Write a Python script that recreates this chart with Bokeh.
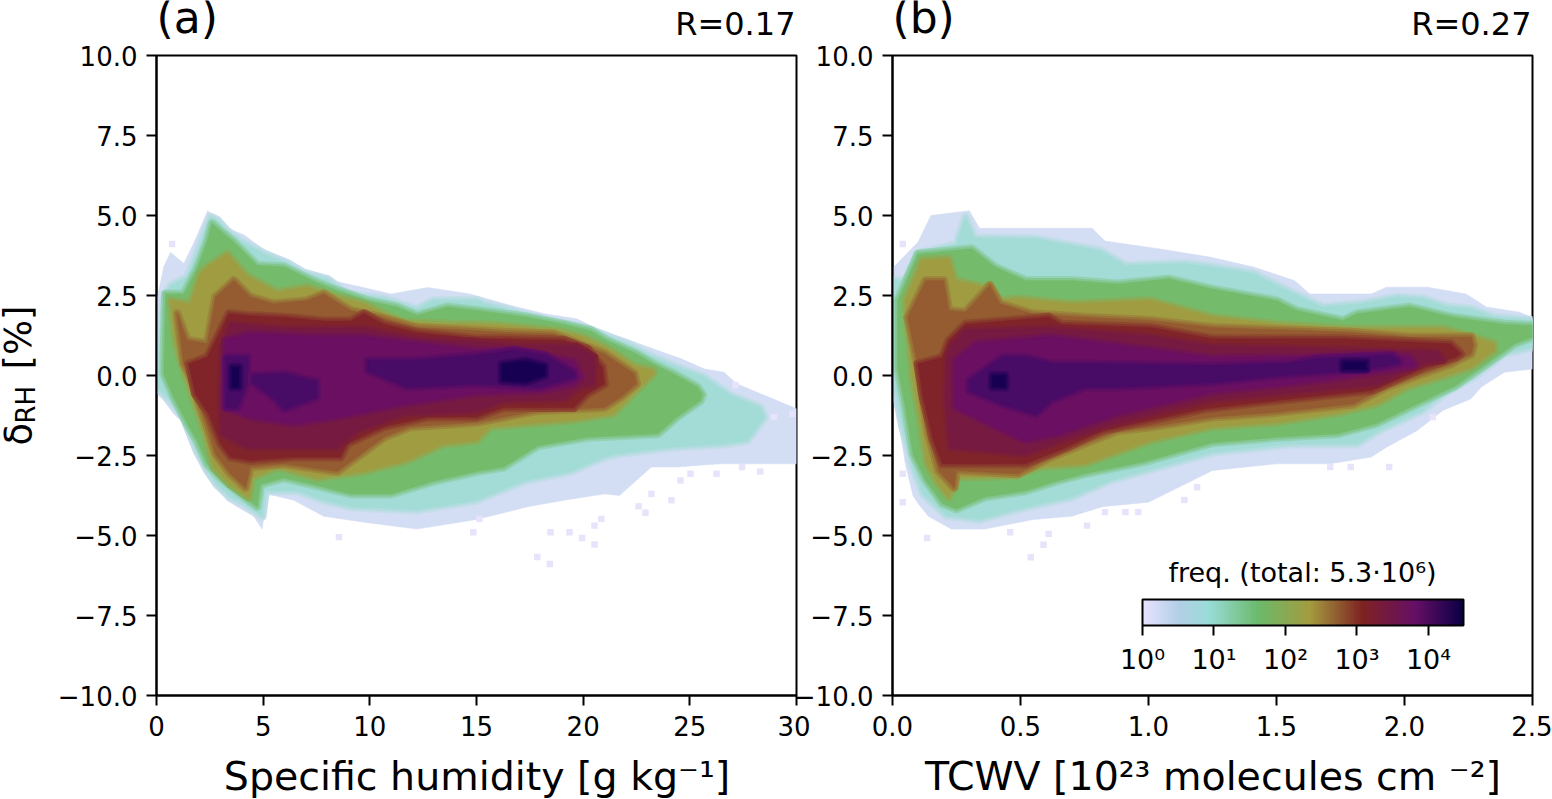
import numpy as np
from bokeh.plotting import figure
from bokeh.layouts import row
from bokeh.embed import file_html
from bokeh.resources import INLINE
from bokeh.models import ColorBar, FixedTicker, Label, LogColorMapper

# ---------- ticks ----------
Y_TICKS = [-10, -7.5, -5, -2.5, 0, 2.5, 5, 7.5, 10]
Y_LABELS = ["\u221210.0", "\u22127.5", "\u22125.0", "\u22122.5", "0.0", "2.5", "5.0", "7.5", "10.0"]
XA_TICKS = [0, 5, 10, 15, 20, 25, 30]
XB_TICKS = [0, 0.5, 1.0, 1.5, 2.0, 2.5]
XB_LABELS = ["0.0", "0.5", "1.0", "1.5", "2.0", "2.5"]
CB_TICKS = [1, 10, 100, 1000, 10000]
CB_LABELS = ["10\u2070", "10\u00b9", "10\u00b2", "10\u00b3", "10\u2074"]

# ---------- panel (a): contour outlines of the histogram ----------
A1_UX = [.03,.34,.66,1.28,1.75,2.4,2.7,3.3,4.1,5,6,7.1,8,9.7,11,12.7,14.7,16.6,18.2,19.7,21,22,23.5,24.6,25.7,26.6,27.2,28.5,30]
A1_UY = [2.4,3.4,3.85,3.5,4.15,5.15,5.0,4.6,4.4,3.95,3.6,3.2,3,2.75,2.55,2.75,2.55,2.19,1.93,1.77,1.35,1.15,.78,.52,.2,.1,-.26,-.62,-1.04]
A1_LX = [.03,.34,.81,1.28,1.6,2.06,2.4,2.84,3.3,3.78,4.56,4.95,5.2,6.44,7.84,9.9,12.2,15,17.4,19.1,21,21.7,23.2,24.4,26.4,28.5,30]
A1_LY = [-.57,-.78,-1.2,-1.5,-2.13,-2.76,-2.97,-3.5,-3.9,-4.1,-4.4,-4.8,-3.7,-3.9,-4.4,-4.6,-4.8,-4.5,-4.1,-3.9,-3.7,-3.75,-2.86,-2.86,-2.76,-2.76,-2.76]
A2_UX = [.34,.66,1.44,1.83,2.53,2.84,3.31,3.94,5.03,6.13,6.9,8,8.94,10.66,12.2,13,15.03,15.35,16.75,18.3,20,21,22.2,23.3,24.4,25.66,26.9,28.3]
A2_UY = [2.34,2.8,3.07,3.7,4.95,4.85,4.5,4.2,3.8,3.5,3.2,3,2.55,2.4,2.08,2.34,2.34,2.24,2,1.72,1.5,1.25,.94,.57,.26,-.05,-.62,-1.0]
A2_LX = [.03,.66,1.28,1.9,2.4,2.84,3.47,4.1,4.95,5.1,6.6,7.84,9.1,12.2,15,17.2,19.4,21,21.6,24.1,26.6,27.7,28.5]
A2_LY = [-.36,-.78,-1.3,-2.34,-2.97,-3.4,-3.8,-4.0,-4.4,-3.6,-3.6,-3.9,-4.1,-4.2,-3.9,-3.3,-3,-2.55,-2.45,-2.24,-2.14,-2.03,-1.3]
A3_UX = [.42,1.28,1.9,2.38,2.6,3.16,3.63,4.72,5.97,7.53,8.47,9.88,11.28,12.22,13.63,15.03,15.66,17.4,19.1,20.35,21.1,22.5,23.3,24.25,25.35,25.6]
A3_UY = [2.55,2.55,3.34,4.2,4.75,4.43,4.17,3.44,3.4,2.9,2.66,2.34,2.14,1.88,2.14,2.03,1.98,1.82,1.6,1.4,1.1,.68,.36,.05,-.36,-.6]
A3_LX = [.34,.81,1.44,1.9,2.38,3,3.94,4.72,4.88,5.97,7.53,9.1,11,13,15,16.28,17.85,20.2,23.5,24.4,25.5]
A3_LY = [.05,-.68,-1.5,-2.03,-2.76,-3.2,-3.7,-4.1,-3.4,-3.2,-3.44,-3.7,-3.7,-3.3,-3,-2.86,-2.2,-1.93,-1.82,-1.3,-.78]
A4_UX = [.66,1.6,2.06,2.38,3.31,4.25,5.66,7.06,8.47,9.7,10.66,11.6,13.78,15,16.28,18.8,20,21.3,22.4,23.3]
A4_UY = [2.34,2.24,3.18,3.39,3.8,3.1,2.6,2.76,2.45,2.24,1.93,1.67,1.6,1.6,1.56,1.4,1.2,.78,.3,.15]
A4_LX = [.9,1.28,1.75,2.22,2.69,3.47,4.33,4.48,5.66,7.53,9.72,11.75,13.47,15,15.66,19.4,21.4,22.5,23.3]
A4_LY = [1,.16,-.78,-1.7,-2.86,-3.4,-3.8,-3.2,-2.86,-3.2,-3,-2.66,-2.14,-2.03,-1.6,-1.4,-1.2,-.47,.05]
A5_UX = [.97,1.44,2.38,2.77,3.63,4.4,5.5,7.06,7.84,9.1,10.5,12.2,15,16.28,18.6,19.4,21,22.4]
A5_UY = [1.93,1.1,1,2.45,2.97,2.45,2.24,2.34,2.55,2.03,1.82,1.5,1.4,1.35,1.3,1.1,.68,.05]
A5_LX = [1.28,1.6,2.06,2.38,2.77,3.47,4.17,4.4,5.97,8.47,9.4,10.66,11.9,15,17.85,21,21.75,22.5]
A5_LY = [.36,-.05,-1,-1.6,-2.45,-3.07,-3.5,-2.86,-2.76,-3,-2.55,-1.93,-1.6,-1.46,-1.1,-1,-.68,-.26]
A6_UX = [1.52,2.38,3,3.39,4.4,5.97,7.84,9.1,9.72,10.66,12.2,15,16.44,19.1,20.2,20.9]
A6_UY = [.36,.57,1.4,1.93,1.87,1.82,1.7,1.7,1.93,1.6,1.35,1.15,1.15,1.1,.83,.26]
A6_LX = [1.83,2.45,3,3.47,4.4,6.44,8.62,8.94,10.66,12.7,15,16.28,19.56,20.2,21]
A6_LY = [-.57,-1.2,-2.13,-2.55,-2.66,-2.55,-2.55,-2.13,-1.6,-1.3,-1.3,-1,-1,-.57,-.26]
A7_UX = [3.08,3.47,5.97,9.72,12.2,15,16.75,19.7,20.5]
A7_UY = [.89,1.6,1.46,1.46,1.15,1.04,.94,.89,.57]
A7_LX = [3,3.08,4.25,8.47,9.4,11.6,15,16.28,19.1,19.9,20.5]
A7_LY = [-.78,-1.82,-2.24,-2.24,-1.72,-1.2,-1.09,-.78,-.73,-.36,-.26]
A8_UX = [3.23,4.4,7.53,9.72,12.2,15,16.28,18.16,19.56,19.9]
A8_UY = [1.09,1.3,1.2,1.2,1,.78,.78,.62,.42,-.05]
A8_LX = [3.23,4.4,6.44,8.47,11.6,15,18.16,19.56]
A8_LY = [-1,-1.3,-1.5,-1.3,-.89,-.55,-.47,-.26]
A9A_UX = [3.28,4.25]
A9A_UY = [.57,.57]
A9A_LX = [3.28,3.8,4.25]
A9A_LY = [-.99,-.99,-.2]
A9B_UX = [4.5,6,7.5]
A9B_UY = [0,.05,-.2]
A9B_LX = [4.5,5.6,6,7.5]
A9B_LY = [-.2,-.75,-1.05,-.68]
A9C_UX = [9.9,12.2,15,16.75,18.2,19.56]
A9C_UY = [.47,.47,.62,.78,.62,.1]
A9C_LX = [9.9,11.75,15,17.85,19.56]
A9C_LY = [.16,-.36,-.25,-.36,-.05]
A10A_UX = [3.55,3.86]
A10A_UY = [.26,.26]
A10A_LX = [3.55,3.86]
A10A_LY = [-.36,-.36]
A10B_UX = [16.2,17.3,18.2]
A10B_UY = [.35,.45,.3]
A10B_LX = [16.2,17.3,18.2]
A10B_LY = [-.15,-.2,0]
A_OUT_X = [17.85,18.44,20.53,19.95,18.47,19.36,14.85,20.53,20.85,15.14,22.92,22.6,24.14,23.2,24.56,28.3,26.25,25.03,27.45,27.14,29.8,28.94,.73,8.55]
A_OUT_Y = [-5.67,-5.89,-5.28,-5.08,-4.9,-4.9,-4.9,-4.69,-4.48,-4.48,-4.29,-4.09,-3.9,-3.7,-3.28,-3.0,-3.07,-3.07,-2.86,-.3,-1.2,-1.3,4.11,-5.05]

# ---------- panel (b) ----------
B1_UX = [.005,.1,.15,.3,.34,.49,.78,.83,1.04,1.24,1.41,1.57,1.63,1.76,1.87,1.93,2.09,2.24,2.32,2.45,2.5]
B1_UY = [3.39,4.17,5,5.15,4.6,4.6,4.6,4.2,3.96,3.7,3.39,2.97,2.55,2.55,2.55,2.76,2.76,2.55,2.14,1.98,1.8]
B1_LX = [.005,.03,.05,.08,.1,.14,.23,.36,.55,.7,.82,1,1.25,1.5,1.71,1.87,1.93,2.05,2.15,2.26,2.3,2.39,2.5]
B1_LY = [-.78,-1.72,-2.76,-3.75,-4,-4.4,-4.8,-4.8,-4.5,-4.4,-4.1,-3.96,-2.97,-2.76,-2.76,-2.55,-2.24,-1.72,-1.09,-.73,-.36,.1,.2]
B2_UX = [.01,.08,.1,.25,.285,.32,.56,.81,.91,1.14,1.25,1.41,1.57,1.68,1.83,1.97,2.07,2.17,2.26,2.35,2.5]
B2_UY = [2.97,2.97,3.8,4.1,4.95,4.3,4.27,3.9,3.44,3.5,3.39,3.18,2.55,2.14,2.24,2.45,2.4,2.14,2.08,1.82,1.72]
B2_LX = [.01,.04,.08,.12,.21,.34,.49,.7,.85,1.04,1.25,1.55,1.815,1.9,2.07,2.17,2.27,2.39,2.5]
B2_LY = [-.36,-1.6,-2.86,-3.7,-4.37,-4.5,-4.17,-3.8,-3.28,-2.86,-2.4,-2.14,-2.14,-1.72,-1.09,-.47,-.05,.68,.89]
B3_UX = [.02,.1,.31,.4,.52,.7,.88,1.08,1.25,1.5,1.58,1.76,1.815,2.02,2.19,2.39,2.5]
B3_UY = [2.34,3.8,3.96,3.39,2.97,2.97,2.86,3.02,2.7,2.34,2.03,1.72,1.93,2.14,1.82,1.6,1.56]
B3_LX = [.02,.05,.08,.13,.195,.25,.36,.52,.65,.75,.98,1.25,1.5,1.74,1.89,2.05,2.2,2.32,2.43,2.5]
B3_LY = [.26,-.99,-2.45,-3.28,-4,-4.17,-3.8,-3.6,-3.28,-3.07,-2.7,-2.1,-1.93,-1.82,-1.5,-.89,-.31,.36,.99,1.2]
B4_UX = [.05,.115,.22,.245,.36,.42,.49,.7,1.01,1.25,1.5,1.76,2.15,2.27,2.35]
B4_UY = [2.34,3.6,3.65,2.97,2.76,2.34,2.4,2.24,2.34,1.82,1.6,1.46,1.46,1.2,.99]
B4_LX = [.08,.1,.135,.18,.22,.25,.48,.57,.75,1.01,1.25,1.5,1.75,1.89,2.01,2.14,2.26,2.35]
B4_LY = [-.16,-.99,-2.76,-3.4,-3.8,-3.18,-3.13,-2.86,-2.76,-2.03,-1.6,-1.46,-1.15,-.89,-.36,-.05,.26,.78]
B5_UX = [.06,.13,.2,.22,.285,.38,.42,.545,.75,1.01,1.25,1.63,1.79,2.02,2.26,2.27]
B5_UY = [1.82,2.97,2.97,2.03,1.98,2.81,2.24,1.93,1.82,1.72,1.5,1.4,1.35,1.2,1.2,.95]
B5_LX = [.1,.14,.18,.24,.25,.49,.62,.78,.88,1.01,1.25,1.5,1.8,1.93,2.05,2.18,2.26]
B5_LY = [.26,-1.82,-2.97,-3.5,-2.97,-3.07,-2.55,-2.03,-1.72,-1.6,-1.3,-1.15,-.89,-.36,0,.36,.68]
B6_UX = [.1,.195,.22,.285,.61,.66,1.01,1.25,1.76,2.18,2.22]
B6_UY = [.36,.57,1.09,1.6,1.82,1.6,1.5,1.15,1.15,.99,.68]
B6_LX = [.12,.16,.195,.52,.68,.82,1.01,1.22,1.5,1.87,2.08,2.2]
B6_LY = [-.68,-2.03,-2.76,-2.76,-2.24,-1.72,-1.4,-1.04,-.78,-.47,.26,.57]
B7_UX = [.215,.23,.285,.61,1.01,1.25,1.63,2.13,2.15]
B7_UY = [.57,.89,1.4,1.46,1.2,.9,.83,.73,.5]
B7_LX = [.21,.225,.52,.66,.82,1.01,1.25,1.5,1.89,2.08]
B7_LY = [-.78,-2.24,-2.45,-2.03,-1.6,-1.2,-.75,-.57,-.26,.42]
B8_UX = [.245,.325,.62,.88,1.25,1.63,1.93,2.02,2.04]
B8_UY = [.47,.99,1.2,.94,.55,.57,.68,.57,.31]
B8_LX = [.245,.4,.52,.65,.88,1.25,1.5,1.76,1.97]
B8_LY = [-.99,-1.6,-2.03,-1.82,-1.2,-.5,-.31,-.05,.21]
B9_UX = [.3,.43,.52,.62,.75,1.25,1.54,1.66,1.95,1.98]
B9_UY = [-.16,.57,.57,.36,.36,.3,.36,.52,.62,.42]
B9_LX = [.3,.43,.56,.62,.75,.88,1.25,1.5,1.79,1.93]
B9_LY = [-.47,-.89,-1.2,-.78,-.36,-.36,-.21,0,.16,.31]
B10A_UX = [.39,.44]
B10A_UY = [0,0]
B10A_LX = [.39,.44]
B10A_LY = [-.36,-.36]
B10B_UX = [1.76,1.85]
B10B_UY = [.42,.42]
B10B_LX = [1.76,1.85]
B10B_LY = [.2,.2]
B_OUT_X = [.54,.59,.61,.135,.46,.76,.04,.04,.04,1.14,1.19,.83,.91,.96,1.71,1.79,1.94,2.11]
B_OUT_Y = [-5.68,-5.29,-4.95,-5.08,-4.9,-4.69,4.11,-3.96,-3.07,-3.89,-3.49,-4.27,-4.27,-4.27,-2.86,-2.86,-2.86,-1.3]

BAND_COLORS = ["#d3ddf3", "#a3dcd6", "#74bb6c", "#a09c42", "#945c30", "#80242a",
               "#761a42", "#6a0f62", "#480b66", "#170052"]
OUT_COLOR = "#e6e3fb"

A_BANDS = [(A1_UX, A1_UY, A1_LX, A1_LY, 0), (A2_UX, A2_UY, A2_LX, A2_LY, 1), (A3_UX, A3_UY, A3_LX, A3_LY, 2),
           (A4_UX, A4_UY, A4_LX, A4_LY, 3), (A5_UX, A5_UY, A5_LX, A5_LY, 4), (A6_UX, A6_UY, A6_LX, A6_LY, 5),
           (A7_UX, A7_UY, A7_LX, A7_LY, 6), (A8_UX, A8_UY, A8_LX, A8_LY, 7), (A9A_UX, A9A_UY, A9A_LX, A9A_LY, 8),
           (A9B_UX, A9B_UY, A9B_LX, A9B_LY, 8), (A9C_UX, A9C_UY, A9C_LX, A9C_LY, 8),
           (A10A_UX, A10A_UY, A10A_LX, A10A_LY, 9), (A10B_UX, A10B_UY, A10B_LX, A10B_LY, 9)]
B_BANDS = [(B1_UX, B1_UY, B1_LX, B1_LY, 0), (B2_UX, B2_UY, B2_LX, B2_LY, 1), (B3_UX, B3_UY, B3_LX, B3_LY, 2),
           (B4_UX, B4_UY, B4_LX, B4_LY, 3), (B5_UX, B5_UY, B5_LX, B5_LY, 4), (B6_UX, B6_UY, B6_LX, B6_LY, 5),
           (B7_UX, B7_UY, B7_LX, B7_LY, 6), (B8_UX, B8_UY, B8_LX, B8_LY, 7), (B9_UX, B9_UY, B9_LX, B9_LY, 8),
           (B10A_UX, B10A_UY, B10A_LX, B10A_LY, 9), (B10B_UX, B10B_UY, B10B_LX, B10B_LY, 9)]

FONT = "DejaVu Sans"
TICK_PT = "26px"


def mix(c1, c2, f):
    a = [int(c1[i:i + 2], 16) for i in (1, 3, 5)]
    b = [int(c2[i:i + 2], 16) for i in (1, 3, 5)]
    return "#%02x%02x%02x" % tuple(round(x + (y - x) * f) for x, y in zip(a, b))


def make_panel(left, right, margin, xmax, xticks, xlabels, bands, ox, oy, cell_w):
    p = figure(frame_width=640, frame_height=640, output_backend="svg", toolbar_location=None,
               x_range=(0, xmax), y_range=(-10, 10), margin=margin, border_fill_color=None,
               min_border_left=left, min_border_right=right, min_border_top=55, min_border_bottom=104)
    p.grid.visible = False
    p.outline_line_color = "black"
    p.outline_line_width = 2
    p.background_fill_color = "white"
    for ux, uy, lx, ly, c in bands:
        xs = list(ux) + list(lx)[::-1]
        ys = list(uy) + list(ly)[::-1]
        if c > 0:
            prev = BAND_COLORS[c - 1]
            cur = BAND_COLORS[c]
            p.patch(xs, ys, fill_color=None, line_color=mix(prev, cur, 0.33), line_width=9, line_join="round")
            p.patch(xs, ys, fill_color=None, line_color=mix(prev, cur, 0.66), line_width=5, line_join="round")
        p.patch(xs, ys, fill_color=BAND_COLORS[c], line_color=BAND_COLORS[c], line_width=0.5)
    p.rect(ox, oy, width=cell_w, height=0.2, fill_color=OUT_COLOR, line_color=None)
    for ax, ticks, labels, standoff in ((p.xaxis[0], xticks, xlabels, 10), (p.yaxis[0], Y_TICKS, Y_LABELS, 9)):
        ax.ticker = FixedTicker(ticks=ticks)
        ax.major_label_overrides = dict(zip(ticks, labels))
        ax.major_tick_in = 0
        ax.major_tick_out = 10
        ax.major_tick_line_width = 2
        ax.minor_tick_line_color = None
        ax.axis_line_color = "black"
        ax.axis_line_width = 2
        ax.major_label_text_font = FONT
        ax.major_label_text_font_size = TICK_PT
        ax.major_label_text_color = "black"
        ax.major_label_standoff = standoff
    return p


pa = make_panel(156, 14, (0, 0, 0, 0), 30, XA_TICKS, [str(t) for t in XA_TICKS], A_BANDS, A_OUT_X, A_OUT_Y, 0.3)
pb = make_panel(104, 20, (0, 0, 0, -22), 2.5, XB_TICKS, XB_LABELS, B_BANDS, B_OUT_X, B_OUT_Y, 0.025)

# colour bar
STOPS = [0, 0.5, 0.92, 1.62, 2.34, 3.08, 3.82, 4.49]
STOP_COLORS = ["#e6e3ff", "#b3cfe6", "#9adcd8", "#6bba6b", "#a39c3f", "#7f2222", "#660f66", "#0a0045"]
rgb = np.array([[int(c[i:i + 2], 16) for i in (1, 3, 5)] for c in STOP_COLORS], float)
t = np.linspace(0, 4.49, 256)
palette = ["#%02x%02x%02x" % tuple(int(round(np.interp(v, STOPS, rgb[:, k]))) for k in range(3)) for v in t]
mapper = LogColorMapper(palette=palette, low=1, high=10 ** 4.49)
cb = ColorBar(color_mapper=mapper, orientation="horizontal", width=321, height=26, location=(250, 18), padding=0,
              ticker=FixedTicker(ticks=CB_TICKS), major_label_overrides=dict(zip(CB_TICKS, CB_LABELS)),
              major_tick_in=0, major_tick_out=10, major_tick_line_color="black", major_tick_line_width=2,
              minor_tick_line_color=None, bar_line_color="black", bar_line_width=2,
              major_label_text_font=FONT, major_label_text_font_size="27px", major_label_text_color="black",
              background_fill_color=None, border_line_color=None, label_standoff=8)
pb.add_layout(cb)

# transparent page-sized layer that carries the texts lying outside the two frames
overlay = figure(frame_width=1552, frame_height=854, output_backend="svg", toolbar_location=None,
                 x_range=(0, 1552), y_range=(854, 0), x_axis_type=None, y_axis_type=None,
                 min_border_left=0, min_border_right=0, min_border_top=0, min_border_bottom=0,
                 outline_line_color=None, background_fill_color=None, border_fill_color=None,
                 margin=(-55, 0, 0, -1552))
TEXTS = [
    ("(a)", 156, 17, "44px", "left", 0),
    ("(b)", 892, 17, "44px", "left", 0),
    ("R=0.17", 795, 23, "32px", "right", 0),
    ("R=0.27", 1531, 23, "32px", "right", 0),
    ("Specific humidity [g kg\u207b\u00b9]", 476.5, 775, "39.5px", "center", 0),
    ("TCWV [10\u00b2\u00b3 molecules cm \u207b\u00b2]", 1212.5, 775, "39.5px", "center", 0),
    ("freq. (total: 5.3\u00b710\u2076)", 1302, 572, "27px", "center", 0),
    ("\u03b4", 18.3, 445, "37px", "left", 90),
    ("RH", 25.4, 423, "26px", "left", 90),
    ("[%]", 18.3, 369, "37px", "left", 90),
]
for txt, x, y, size, align, ang in TEXTS:
    overlay.add_layout(Label(x=x, y=y, text=txt, angle=ang, angle_units="deg", text_font=FONT,
                             text_font_size=size, text_align=align, text_baseline="alphabetic",
                             text_color="black"))

layout = row(pa, pb, overlay, spacing=0)
open("out.html", "w").write(file_html(layout, INLINE))
